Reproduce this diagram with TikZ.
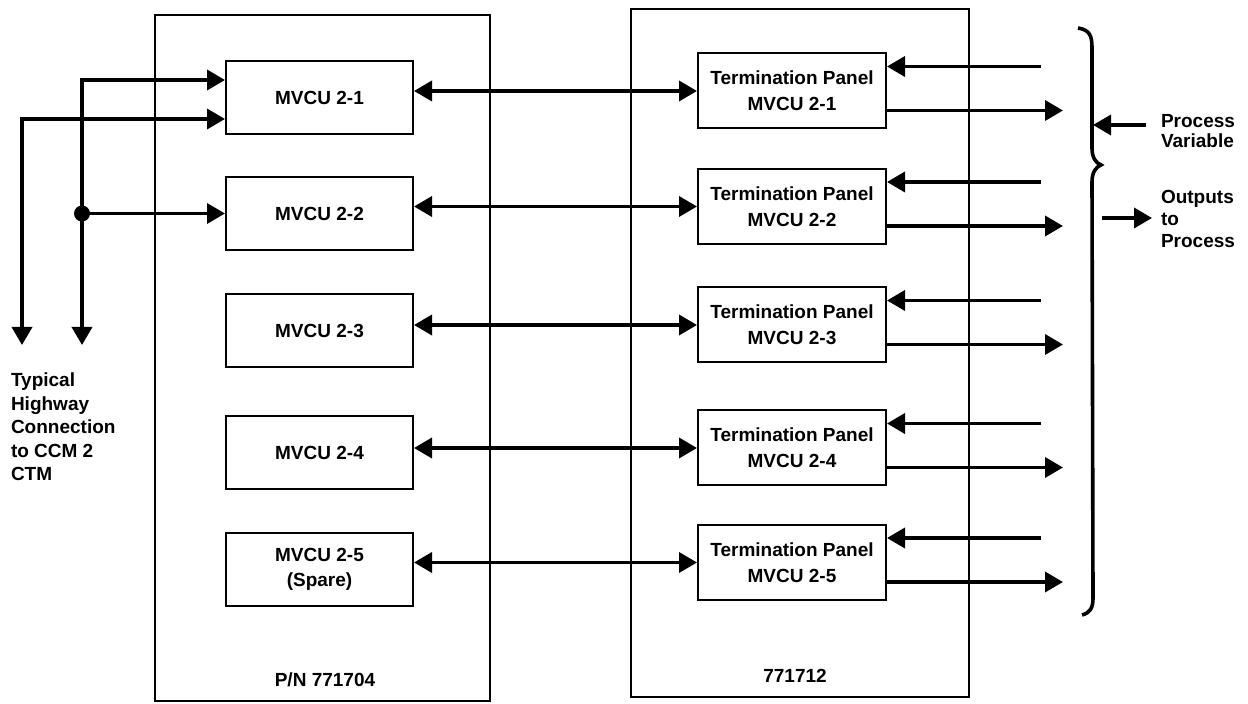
\documentclass[tikz,border=0pt]{standalone}
\usepackage{fontspec}
\setmainfont{Liberation Sans}
\usetikzlibrary{arrows.meta,calc}

\begin{document}
\begin{tikzpicture}[x=0.5pt,y=-0.5pt,line width=1pt,
  >={Triangle[length=9pt,width=10pt]},
  every node/.style={font=\bfseries\fontsize{9.5}{12.5}\selectfont},
  frame/.style={draw,rectangle,inner sep=0pt},
  unit/.style={draw,rectangle,minimum width=93.5pt,minimum height=36.5pt,align=center,inner sep=0pt},
  term/.style={draw,rectangle,minimum width=94pt,minimum height=37.5pt,align=center,inner sep=0pt,
    font=\bfseries\fontsize{9.5}{13}\selectfont},
  wire/.style={line width=1.8pt},
  legend/.style={anchor=north west,align=left,inner sep=0pt}]
\useasboundingbox (0,0) rectangle (1248,704);
% ---------- cabinets ----------
\node[frame,minimum width=167.5pt,minimum height=343pt] (cabL) at (322.5,358) {};
\node[frame,minimum width=169pt,minimum height=344pt] (cabR) at (800,353) {};
\node (pnL) at (325,680) {P/N 771704};
\node (pnR) at (795,676) {771712};
% ---------- MVCU units and termination panels ----------
\foreach \i/\ly/\ry/\txt in {1/98/91/{MVCU 2-1},2/213.5/206.5/{MVCU 2-2},
    3/330.5/325/{MVCU 2-3},4/452.5/448/{MVCU 2-4},5/569.5/562.5/{MVCU 2-5\\(Spare)}}
{
  \node[unit] (mv\i) at (319.5,\ly) {\txt};
  \node[term] (tp\i) at (792,\ry) {Termination Panel\\MVCU 2-\i};
  \draw[wire,<->] (tp\i.west -| mv\i.east) -- (tp\i.west);
  % field side: variable in, output out
  \coordinate (pin\i) at ($(tp\i.north east)+(154,14)$);
  \coordinate (pout\i) at ($(tp\i.south east)+(176,-19)$);
  \draw[wire,->] (pin\i) -- (pin\i -| tp\i.east);
  \draw[wire,->] (pout\i -| tp\i.east) -- (pout\i);
}
% ---------- highway ----------
\coordinate (hwA) at (22,345);
\coordinate (hwB) at (82,345);
\draw[wire,<->] ($(mv1.west)+(0,21)$) -| (hwA);
\draw[wire,<->] ($(mv1.west)+(0,-18)$) -| (hwB);
\coordinate (tap) at (hwB |- mv2.west);
\fill (tap) circle[radius=4pt];
\draw[wire,->] (tap) -- (mv2.west);
\node[legend,font=\bfseries\fontsize{9.5}{11.75}\selectfont] (hwtxt) at (10,372)
  {Typical\\Highway\\Connection\\to CCM 2\\CTM};
% ---------- brace and legend ----------
\draw[line width=1.8pt] (1078,28) .. controls (1090,30) and (1092,36) .. (1092,48)
  -- (1092,148) .. controls (1092,158) and (1096,163) .. (1101,165)
  .. controls (1096,167) and (1092,172) .. (1092,182)
  -- (1093,598) .. controls (1093,608) and (1090,613) .. (1082,615);
\node[legend,font=\bfseries\fontsize{9.5}{10}\selectfont] (pvtxt) at (1160,113) {Process\\Variable};
\coordinate (pvTip) at (1093,125);
\draw[wire,->] ($(pvTip -| pvtxt.west)+(-14,0)$) -- (pvTip);
\node[legend,font=\bfseries\fontsize{9.5}{11}\selectfont] (optxt) at (1160,189) {Outputs\\to\\Process};
\coordinate (opTail) at (1102,218);
\draw[wire,->] (opTail) -- ($(opTail -| optxt.west)+(-8,0)$);
\end{tikzpicture}
\end{document}
